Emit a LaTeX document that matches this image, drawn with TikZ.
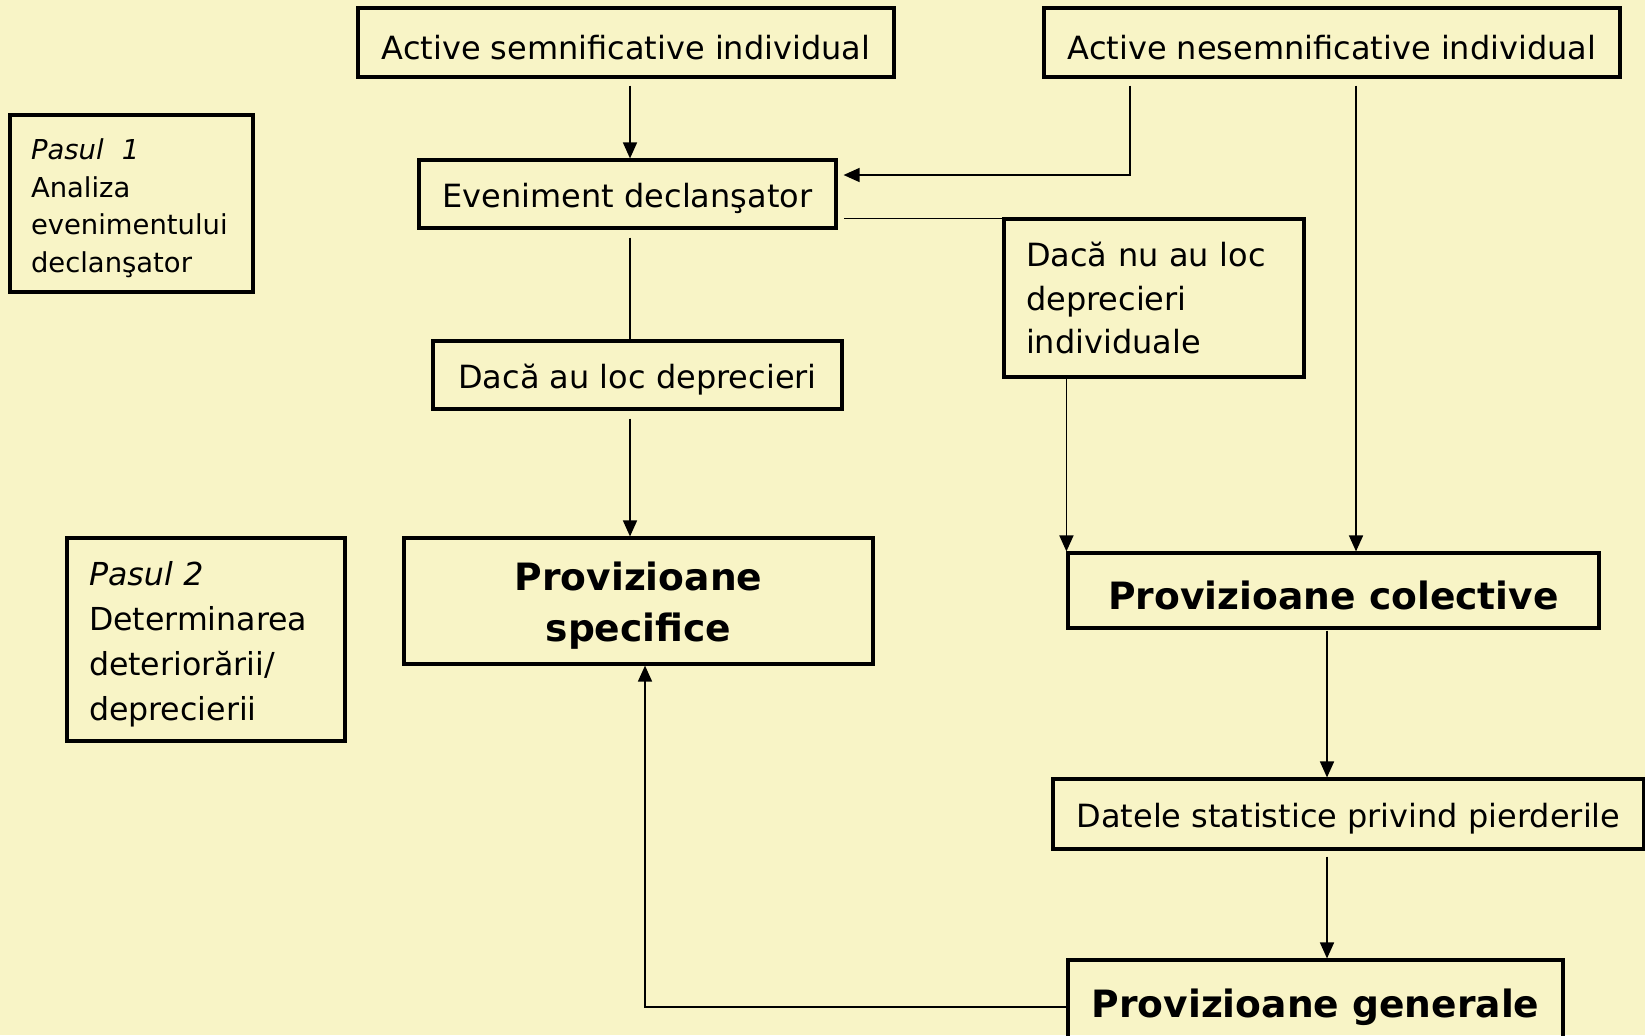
\documentclass[tikz,border=0pt]{standalone}
\usepackage{fontspec}
\setmainfont{DejaVu Sans}
\usepackage{xcolor}
\usepackage{tikz}
\usetikzlibrary{arrows.meta, positioning, calc}

\definecolor{pale}{RGB}{248,244,198}

\begin{document}
\begin{tikzpicture}[
    x=0.1mm, y=-0.1mm,
    frame/.style={rectangle, draw, line width=0.9pt, inner sep=0pt, align=center, font=\fontsize{9.1}{12.5}\selectfont},
    box/.style={frame, execute at begin node={\rule{0pt}{\dimexpr0.8em+0.8mm\relax}}},
    bigbox/.style={box, font=\fontsize{10.7}{14.6}\selectfont\bfseries},
    stepbox/.style={box, align=left, text width=#1},
    arrow/.style={-{Triangle[length=1.6mm, width=1.4mm]}, line width=0.45pt},
    link/.style={line width=0.45pt},
]
\useasboundingbox (0,0) rectangle (1645,1035);
\fill[pale] (0,0) rectangle (1645,1035);

% Inputs
\node[box, minimum width=53.6mm, minimum height=6.9mm] (semn) at (626,42.5) {Active semnificative individual};
\node[box, minimum width=57.6mm, minimum height=6.9mm] (nesemn) at (1332,42.5) {Active nesemnificative individual};

% Steps on the left
\node[stepbox=20.1mm, minimum width=24.3mm, minimum height=17.7mm, font=\fontsize{7.8}{10.7}\selectfont] (pas1) at (131.5,203.5) {\textit{Pasul\ \ 1}\\Analiza\\evenimentului\\declanşator};
\node[stepbox=23.4mm, minimum width=27.8mm, minimum height=20.3mm, font=\fontsize{9}{12.8}\selectfont] (pas2) at (206,639.5) {\textit{Pasul 2}\\Determinarea\\deteriorării/\\deprecierii};

% Trigger and conditions
\node[box, minimum width=41.7mm, minimum height=6.8mm] (even) at (627.5,194) {Eveniment declanşator};
\node[frame, align=left, text width=25.6mm, minimum width=30mm, minimum height=15.8mm] (nunode) at (1154,298) {Dacă nu au loc\\deprecieri\\individuale};
\node[box, minimum width=40.9mm, minimum height=6.8mm] (dacaau) at (637.5,375) {Dacă au loc deprecieri};

% Provisions
\node[bigbox, text width=44mm, minimum width=46.9mm, minimum height=12.6mm] (spec) at (638.5,601) {Provizioane\\specifice};
\node[bigbox, minimum width=53.1mm, minimum height=7.5mm] (colect) at (1333.5,590.5) {Provizioane colective};
\node[box, minimum width=59.1mm, minimum height=7mm] (stat) at (1348.5,814) {Datele statistice privind pierderile};
\node[bigbox, minimum width=49.5mm, minimum height=8.5mm] (gen) at (1315.5,1002.5) {Provizioane generale};

\coordinate (col) at (630,0);
\coordinate (col2) at (1327,0);

\draw[arrow, shorten <=0.7mm] (semn.south -| col) -- (col |- even.north);
\draw[arrow, shorten <=0.7mm, shorten >=0.6mm] ([xshift=-20.2mm]nesemn.south) |- ([yshift=1.9mm]even.east);
\draw[link, shorten >=0.6mm] ([yshift=-0.1mm]nunode.north west) -- ([yshift=-0.1mm]nunode.north west -| even.east);
\draw[link, shorten <=0.8mm] (col |- even.south) -- (col |- dacaau.north);
\draw[arrow, shorten <=0.8mm] (col |- dacaau.south) -- (col |- spec.north);
\draw[arrow] (nunode.south -| colect.north west) -- (colect.north west);
\draw[arrow, shorten <=0.7mm] ([xshift=2.4mm]nesemn.south) -- ([xshift=2.4mm]nesemn.south |- colect.north);
\draw[arrow, shorten <=0.1mm] (col2 |- colect.south) -- (col2 |- stat.north);
\draw[arrow, shorten <=0.6mm] (col2 |- stat.south) -- (col2 |- gen.north);
\draw[arrow] ([yshift=-0.45mm]gen.west) -| ([xshift=0.65mm]spec.south);

\end{tikzpicture}
\end{document}
